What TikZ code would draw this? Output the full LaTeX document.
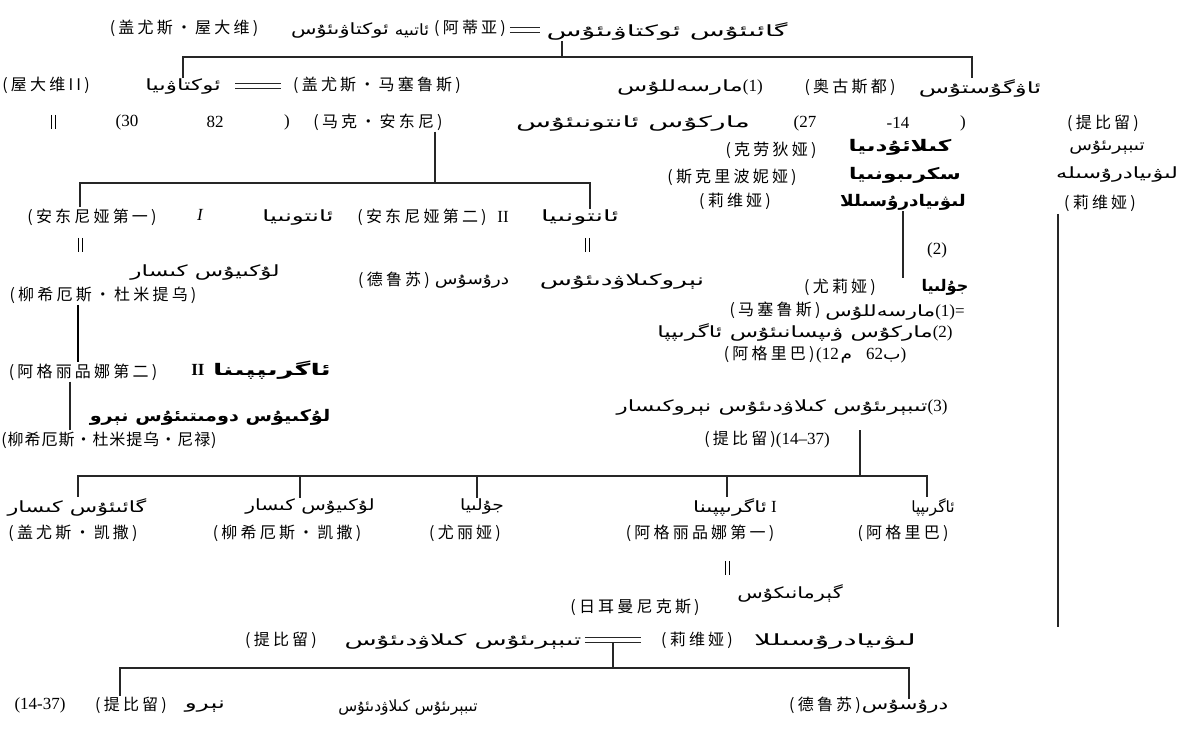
\documentclass[tikz,border=0pt]{standalone}
\usepackage{fontspec}
\usepackage{graphicx}
\setmainfont{Liberation Serif}
\newfontfamily\zhfont[LetterSpace=20]{Noto Sans CJK SC}
\newfontfamily\zhfontn[LetterSpace=6]{Noto Sans CJK SC}
\newfontfamily\arfont[Script=Arabic]{DejaVu Sans}
\TeXXeTstate=1
\newcommand{\zh}[1]{{\zhfont\fontsize{16}{18}\selectfont #1}}
\newcommand{\zhn}[1]{{\zhfontn\fontsize{16}{18}\selectfont #1}}
\newcommand{\ar}[2][1.5]{\scalebox{#1}[1]{\arfont\fontsize{15.5}{18}\selectfont\beginR #2\endR}}
\newcommand{\arb}[2][1.2]{\scalebox{#1}[1]{\arfont\bfseries\fontsize{16}{18}\selectfont\beginR #2\endR}}
\newcommand{\nm}[1]{{\fontsize{17}{18}\selectfont #1}}
\newcommand{\dbl}[1]{\draw[ln] (#1.north west) -- (#1.north east); \draw[ln] (#1.south west) -- (#1.south east);}
\newcommand{\vdbl}[1]{\draw[thin] (#1.north west) -- (#1.south west); \draw[thin] (#1.north east) -- (#1.south east);}
\begin{document}
\begin{tikzpicture}[x=1pt,y=-1pt,
  every node/.style={inner sep=1pt},
  ln/.style={line width=1.3pt, black!85},
  marr/.style={minimum width=#1, minimum height=5pt, inner sep=0pt},
  marr/.default=34pt,
  vd/.style={minimum width=4pt, minimum height=14pt, inner sep=0pt}]
\useasboundingbox[fill=white] (0,0) rectangle (1184,730);

% ---------- row 1
\node (t1zh) at (184,28) {\zh{(盖尤斯・屋大维)}};
\node (t1ar) at (340,31) {\ar[1.35]{ئوكتاۋىئۇس}};
\node (t1ar3) at (412,31) {\ar[1.1]{ئاتىيە}};
\node (t1zh2) at (470,28) {\zh{(阿蒂亚)}};
\node[marr=30pt] (m1) at (525,30) {};
\dbl{m1}
\node (t1ar2) at (667,31) {\ar[1.85]{گائىئۇس ئوكتاۋىئۇس}};

% ---------- row 2
\node (oct2zh) at (46,85) {\zh{(屋大维II)}};
\node (oct) at (183,87) {\ar[1.5]{ئوكتاۋىيا}};
\node[marr=45pt] (m2) at (258,86) {};
\dbl{m2}
\node (marzh) at (377,85) {\zh{(盖尤斯・马塞鲁斯)}};
\node (mar) at (690,87) {\ar[1.6]{مارسەللۇس}\nm{(1)}};
\node (augzh) at (850,87) {\zh{(奥古斯都)}};
\node (aug) at (980,88) {\ar[1.6]{ئاۋگۇستۇس}};

% bracket 1
\coordinate (b1L) at (183,57);
\coordinate (b1R) at (972,57);
\coordinate (b1C) at (562,57);
\draw[ln] (b1L |- oct.north) -- (b1L) -- (b1R) -- (b1R |- aug.north);
\draw[ln] (b1C |- t1ar2.south) -- (b1C);

% ---------- row 2b
\node[vd] (v1) at (53,122) {};
\vdbl{v1}
\node (n30) at (127,122) {\nm{(30}};
\node (n82) at (215,122) {\nm{82}};
\node (np) at (287,122) {\nm{)}};
\node (antzh) at (378,122) {\zh{(马克・安东尼)}};
\node (ant) at (633,124) {\ar[1.85]{ماركۇس ئانتونىئۇس}};
\node (n27) at (805,123) {\nm{(27}};
\node (n14) at (898,123) {\nm{-14}};
\node (np2) at (963,123) {\nm{)}};
\node (tibzh1) at (1103,123) {\zh{(提比留)}};

% right column
\node (tib1) at (1107,148) {\ar[1.2]{تىبېرىئۇس}};
\node (liv1) at (1117,175) {\ar[1.45]{لىۋىيادرۇسىلە}};
\node (livzh1) at (1100,203) {\zh{(莉维娅)}};
\coordinate (lvT) at (1058,214);
\coordinate (lvB) at (1058,627);
\draw[ln] (lvT) -- (lvB);

% middle right block
\node (clazh) at (771,150) {\zh{(克劳狄娅)}};
\node (cla) at (900,147) {\arb[1.45]{كىلائۇدىيا}};
\node (scrzh) at (732,177) {\zh{(斯克里波妮娅)}};
\node (scr) at (905,175) {\arb[1.35]{سكرىبونىيا}};
\node (livzh) at (735,201) {\zh{(莉维娅)}};
\node (liv) at (903,202) {\arb[1.15]{لىۋىيادرۇسىللا}};
\node (n2) at (937,250) {\nm{(2)}};
\node (julzh) at (840,287) {\zh{(尤莉娅)}};
\node (jul) at (945,287) {\arb[1.0]{جۇلىيا}};
\draw[ln] (liv.south) -- (liv.south |- jul.north);
\node (marzh2) at (775,310) {\zh{(马塞鲁斯)}};
\node (mar2) at (895,312) {\ar[1.4]{مارسەللۇس}\nm{(1)=}};
\node (agr) at (805,332) {\ar[1.5]{ماركۇس ۋىپسانىئۇس ئاگرىپپا}\nm{(2)}};
\node (agrzh) at (815,355) {\zh{(阿格里巴)}\,\nm{(12}\,\ar[1.2]{م}\hspace{14pt}\nm{62}\ar[1.2]{ب}\nm{)}};
\node (tib3) at (782,407) {\ar[1.5]{تىبېرىئۇس كىلاۋدىئۇس نېروكىسار}\nm{(3)}};
\node (tibzh3) at (767,440) {\zh{(提比留)}\nm{(14--37)}};

% ---------- Antony's children
\node (ant1zh) at (92,217) {\zh{(安东尼娅第一)}};
\node (ant1I) at (200,215) {\nm{\itshape I}};
\node (ant1) at (298,218) {\ar[1.6]{ئانتونىيا}};
\node (ant2zh) at (422,217) {\zh{(安东尼娅第二)}};
\node (ant2II) at (503,217) {\nm{II}};
\node (ant2) at (580,218) {\ar[1.75]{ئانتونىيا}};
\coordinate (b2L) at (80,183);
\coordinate (b2R) at (590,183);
\coordinate (b2C) at (435,183);
\draw[ln] (b2C |- antzh.south) -- (b2C);
\draw[ln] (b2L |- ant1zh.north) -- (b2L) -- (b2R) -- (b2R |- ant2.north);
\node[vd] (v2) at (80,245) {};
\vdbl{v2}
\node[vd] (v3) at (587,245) {};
\vdbl{v3}

\node (luc) at (205,273) {\ar[1.5]{لۇكىيۇس كىسار}};
\node (luczh) at (103,295) {\zh{(柳希厄斯・杜米提乌)}};
\node (druzh) at (394,280) {\zh{(德鲁苏)}};
\node (dru) at (472,282) {\ar[1.2]{درۇسۇس}};
\node (dru2) at (622,282) {\ar[1.7]{نېروكىلاۋدىئۇس}};

\node (agr2zh) at (83,372) {\zh{(阿格丽品娜第二)}};
\node (agr2II) at (198,370) {\nm{\bfseries II}};
\node (agr2) at (272,370) {\arb[1.7]{ئاگرىپپىنا}};
\coordinate (tvx) at (78,330);
\draw[line width=2pt] (tvx |- luczh.south) -- (tvx |- agr2zh.north);
\node (nero) at (210,417) {\arb[1.2]{لۇكىيۇس دومىتىئۇس نېرو}};
\node (nerozh) at (109,440) {\zhn{(柳希厄斯・杜米提乌・尼禄)}};
\coordinate (tvy) at (70,410);
\draw[ln] (tvy |- agr2zh.south) -- (tvy |- nerozh.north);

% ---------- children of Julia and Agrippa
\coordinate (b3a) at (78,476);
\coordinate (b3b) at (300,476);
\coordinate (b3c) at (477,476);
\coordinate (b3d) at (727,476);
\coordinate (b3e) at (927,476);
\coordinate (up3) at (860,476);
\node (c1) at (77,507) {\ar[1.45]{گائىئۇس كىسار}};
\node (c1zh) at (73,533) {\zh{(盖尤斯・凯撒)}};
\node (c2) at (310,507) {\ar[1.3]{لۇكىيۇس كىسار}};
\node (c2zh) at (287,533) {\zh{(柳希厄斯・凯撒)}};
\node (c3) at (482,507) {\ar[1.2]{جۇلىيا}};
\node (c3zh) at (465,533) {\zh{(尤丽娅)}};
\node (c4) at (735,507) {\ar[1.4]{ئاگرىپپىنا}\nm{ I}};
\node (c4zh) at (700,533) {\zh{(阿格丽品娜第一)}};
\node (c5) at (933,507) {\ar[1.0]{ئاگرىپپا}};
\node (c5zh) at (903,533) {\zh{(阿格里巴)}};
\draw[ln] (b3a |- c1.north) -- (b3a) -- (b3e) -- (b3e |- c5.north);
\draw[ln] (b3b) -- (b3b |- c2.north);
\draw[ln] (b3c) -- (b3c |- c3.north);
\draw[ln] (b3d) -- (b3d |- c4.north);
\draw[ln] (up3 |- tibzh3.north) -- (up3);

% ---------- Germanicus and below
\node[vd] (v4) at (727,568) {};
\vdbl{v4}
\node (ger) at (790,593) {\ar[1.35]{گېرمانىكۇس}};
\node (gerzh) at (635,607) {\zh{(日耳曼尼克斯)}};
\node (tibzh4) at (281,640) {\zh{(提比留)}};
\node (tib4) at (463,642) {\ar[1.7]{تىبېرىئۇس كىلاۋدىئۇس}};
\node[marr=56pt] (m4) at (613,640) {};
\dbl{m4}
\node (livzh4) at (697,640) {\zh{(莉维娅)}};
\node (liv4) at (835,642) {\ar[1.9]{لىۋىيادرۇسىللا}};
\coordinate (b4L) at (120,668);
\coordinate (b4R) at (909,668);
\node (d1a) at (40,705) {\nm{(14-37)}};
\node (d1b) at (131,705) {\zh{(提比留)}};
\node (d1c) at (205,707) {\ar[1.6]{نېرو}};
\node (d1d) at (408,707) {\ar[1.0]{تىبېرىئۇس كىلاۋدىئۇس}};
\node (d2a) at (825,705) {\zh{(德鲁苏)}};
\node (d2b) at (905,707) {\ar[1.4]{درۇسۇس}};
\draw[ln] (m4.south) -- (m4.south |- b4L);
\draw[ln] (b4L |- d1b.north) -- (b4L) -- (b4R) -- (b4R |- d2b.north);
\end{tikzpicture}
\end{document}
